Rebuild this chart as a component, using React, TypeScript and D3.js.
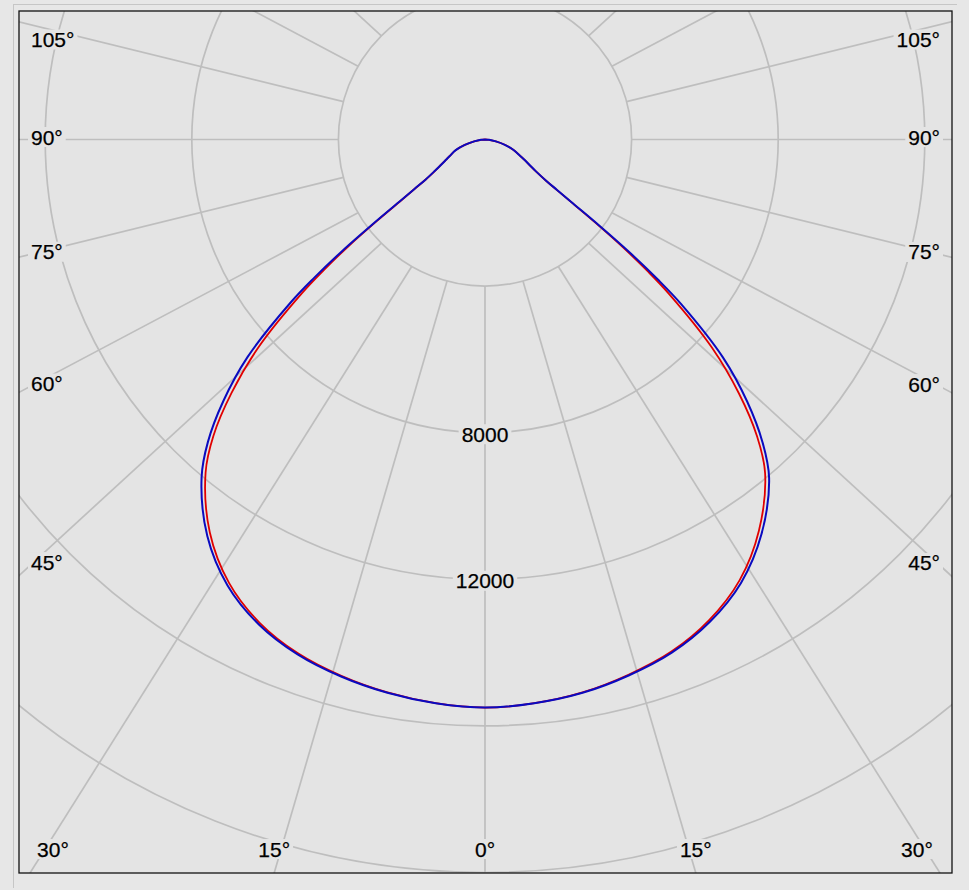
import React from 'react';
import * as d3 from 'd3';

const WIDTH = 969;
const HEIGHT = 890;

// polar angles (degrees from nadir) and luminous intensity values (cd)
const angles = [0, 5, 10, 15, 20, 25, 30, 35, 40, 42.5, 45, 47.5, 50, 51, 52, 53, 54, 55, 56, 58, 60, 62.5, 65, 70, 75, 80, 85, 90];
const blueLeft = [15500, 15440, 15330, 15170, 14950, 14600, 14050, 13210, 12030, 11190, 10100, 8790, 6930, 6000, 4970, 3820, 2890, 2350, 1960, 1610, 1390, 1200, 1060, 850, 570, 300, 110, 0];
const blueRight = [15500, 15440, 15330, 15140, 14900, 14520, 13970, 13150, 12060, 11210, 10120, 8810, 6980, 6060, 5020, 3900, 2970, 2400, 2020, 1640, 1420, 1230, 1060, 820, 560, 300, 110, 0];
const redLeft = [15500, 15440, 15320, 15150, 14920, 14550, 13970, 13090, 11860, 10970, 9780, 8370, 6510, 5650, 4720, 3690, 2830, 2320, 1940, 1600, 1390, 1200, 1060, 850, 570, 300, 110, 0];
const redRight = [15500, 15440, 15320, 15120, 14870, 14470, 13890, 13030, 11890, 10990, 9800, 8390, 6560, 5710, 4770, 3770, 2910, 2370, 2000, 1630, 1420, 1230, 1060, 820, 560, 300, 110, 0];

const ringValues = [4000, 8000, 12000, 16000, 20000];
const ringLabels = [8000, 12000];
const spokeAngles = [0, 15, 30, 45, 60, 75, 90, 105, 120, 135, 150, 165, 180, 195, 210, 225, 240, 255, 270, 285, 300, 315, 330, 345];
const angleLabels = [0, 15, 30, 45, 60, 75, 90, 105];

const FRAME = { x0: 19, y0: 11, x1: 952, y1: 873 };
const CX = 485;
const CY = 139.5;
const STRETCH = 1.09;
const FONT = '"Liberation Sans", Arial, sans-serif';
const FS = 21;
const BG = '#e4e4e4';
const GRID = '#bebebe';

const rScale = d3.scaleLinear().domain([0, 4000]).range([0, 146.6]);

type Pt = { a: number; v: number };

function buildSeries(left: number[], right: number[]): Pt[] {
  const pts: Pt[] = [];
  for (let i = angles.length - 1; i >= 0; i--) {
    pts.push({ a: Math.PI + (angles[i] * Math.PI) / 180, v: left[i] });
  }
  for (let i = 1; i < angles.length; i++) {
    pts.push({ a: Math.PI - (angles[i] * Math.PI) / 180, v: right[i] });
  }
  return pts;
}

const radialLine = d3
  .lineRadial<Pt>()
  .angle((d) => d.a)
  .radius((d) => rScale(d.v))
  .curve(d3.curveCatmullRom.alpha(0.5));

function spoke(phiDeg: number) {
  const phi = (phiDeg * Math.PI) / 180;
  const ux = -Math.sin(phi);
  const uy = Math.cos(phi);
  const r1 = rScale(ringValues[0]);
  const p1 = { x: CX + r1 * ux, y: CY + r1 * uy };
  let dx = STRETCH * ux;
  let dy = uy;
  const n = Math.hypot(dx, dy);
  dx /= n;
  dy /= n;
  return { p1, dx, dy };
}

function textWidth(s: string) {
  let w = 0;
  for (const ch of s) w += ch === '°' ? 0.4 * FS : 0.556 * FS;
  return w;
}

type Lab = { text: string; x: number; y: number; anchor: 'start' | 'middle' | 'end' };

function angleLabelFor(phiDeg: number, text: string): Lab | null {
  const { p1, dx, dy } = spoke(phiDeg);
  const ts: { t: number; side: string }[] = [];
  if (dx < -1e-9) ts.push({ t: (FRAME.x0 - p1.x) / dx, side: 'left' });
  if (dx > 1e-9) ts.push({ t: (FRAME.x1 - p1.x) / dx, side: 'right' });
  if (dy > 1e-9) ts.push({ t: (FRAME.y1 - p1.y) / dy, side: 'bottom' });
  if (dy < -1e-9) ts.push({ t: (FRAME.y0 - p1.y) / dy, side: 'top' });
  ts.sort((a, b) => a.t - b.t);
  const side = ts[0].side;
  if (side === 'left') {
    const x = FRAME.x0 + 12;
    const y = p1.y + ((x - p1.x) / dx) * dy - 2.5;
    return { text, x, y: Math.max(y, FRAME.y0 + 28.5), anchor: 'start' };
  }
  if (side === 'right') {
    const x = FRAME.x1 - 12;
    const y = p1.y + ((x - p1.x) / dx) * dy - 2.5;
    return { text, x, y: Math.max(y, FRAME.y0 + 28.5), anchor: 'end' };
  }
  if (side === 'bottom') {
    let x = p1.x + ((FRAME.y1 - p1.y) / dy) * dx;
    x = Math.min(Math.max(x, FRAME.x0 + 34), FRAME.x1 - 35);
    return { text, x, y: FRAME.y1 - 24, anchor: 'middle' };
  }
  return null;
}

function LabelBox({ lab }: { lab: Lab }) {
  const w = textWidth(lab.text);
  const left = lab.anchor === 'start' ? lab.x : lab.anchor === 'end' ? lab.x - w : lab.x - w / 2;
  return (
    <g>
      <rect x={left - 3} y={lab.y - 10} width={w + 6} height={20} fill={BG} />
      <text
        x={lab.x}
        y={lab.y}
        textAnchor={lab.anchor}
        dominantBaseline="central"
        fontFamily={FONT}
        fontSize={FS}
        fill="#000"
        stroke="#000"
        strokeWidth={0.25}
      >
        {lab.text}
      </text>
    </g>
  );
}

export default function App() {
  const redPts = buildSeries(redLeft, redRight);
  const bluePts = buildSeries(blueLeft, blueRight);

  const labels: Lab[] = [];
  for (const a of angleLabels) {
    const l = angleLabelFor(a, `${a}°`);
    if (l) labels.push(l);
    if (a !== 0) {
      const r = angleLabelFor(360 - a, `${a}°`);
      if (r) labels.push(r);
    }
  }
  const ringLabs: Lab[] = ringLabels.map((v) => ({
    text: String(v),
    x: CX,
    y: CY + rScale(v) + 1.5,
    anchor: 'middle',
  }));

  return (
    <svg
      width={WIDTH}
      height={HEIGHT}
      style={{ position: 'absolute', left: 0, top: 0, display: 'block' }}
    >
      <defs>
        <clipPath id="frameClip">
          <rect x={FRAME.x0} y={FRAME.y0} width={FRAME.x1 - FRAME.x0} height={FRAME.y1 - FRAME.y0} />
        </clipPath>
      </defs>
      <rect x={0} y={0} width={WIDTH} height={HEIGHT} fill="#e7e7e7" />
      <line x1={13} y1={4.5} x2={957} y2={4.5} stroke="#c6c6c6" strokeWidth={1} />
      <line x1={13.5} y1={4} x2={13.5} y2={888} stroke="#c6c6c6" strokeWidth={1} />
      <rect x={FRAME.x0} y={FRAME.y0} width={FRAME.x1 - FRAME.x0} height={FRAME.y1 - FRAME.y0} fill={BG} />
      <g clipPath="url(#frameClip)">
        {ringValues.map((v) => (
          <circle key={v} cx={CX} cy={CY} r={rScale(v)} fill="none" stroke={GRID} strokeWidth={1.7} />
        ))}
        {spokeAngles.map((a) => {
          const { p1, dx, dy } = spoke(a);
          return (
            <line
              key={a}
              x1={p1.x}
              y1={p1.y}
              x2={p1.x + dx * 2000}
              y2={p1.y + dy * 2000}
              stroke={GRID}
              strokeWidth={1.7}
            />
          );
        })}
        {labels.map((l, i) => (
          <LabelBox key={'a' + i} lab={l} />
        ))}
        {ringLabs.map((l, i) => (
          <LabelBox key={'r' + i} lab={l} />
        ))}
        <g transform={`translate(${CX},${CY})`}>
          <path d={radialLine(redPts) || ''} fill="none" stroke="#e00000" strokeWidth={1.8} />
          <path d={radialLine(bluePts) || ''} fill="none" stroke="#0a0ac0" strokeWidth={2} />
        </g>
      </g>
      <rect
        x={FRAME.x0}
        y={FRAME.y0}
        width={FRAME.x1 - FRAME.x0}
        height={FRAME.y1 - FRAME.y0}
        fill="none"
        stroke="#111"
        strokeWidth={1.3}
      />
    </svg>
  );
}
